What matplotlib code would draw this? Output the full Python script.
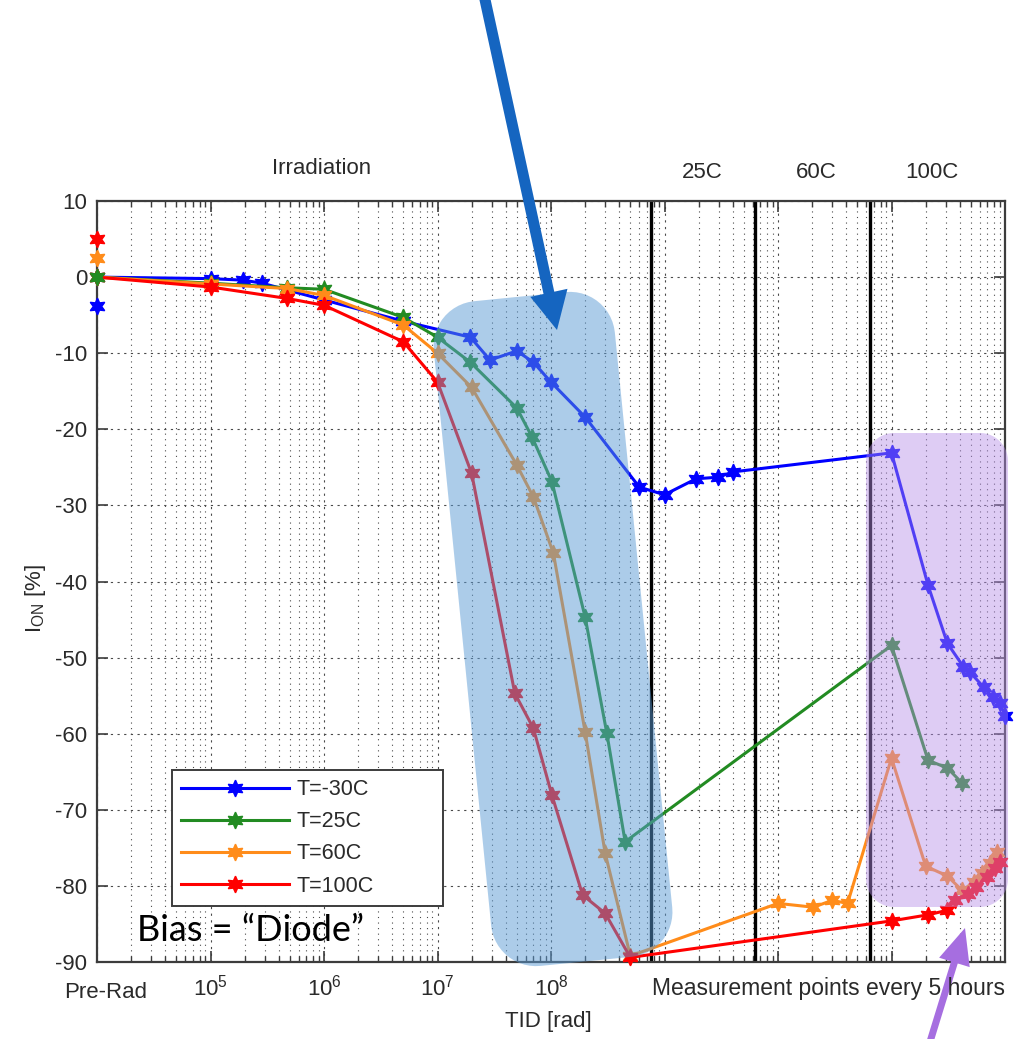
import numpy as np
import matplotlib
matplotlib.use("Agg")
import matplotlib.pyplot as plt
from matplotlib.patches import Polygon, FancyArrow
from matplotlib.ticker import FixedLocator, LogLocator, FuncFormatter, NullFormatter

plt.rcParams["font.family"] = ["Liberation Sans", "DejaVu Sans"]
plt.rcParams["mathtext.fontset"] = "custom"
plt.rcParams["mathtext.rm"] = "Liberation Sans"
plt.rcParams["mathtext.it"] = "Liberation Sans:italic"
plt.rcParams["axes.unicode_minus"] = False

# ---- measured on-current change vs. total ionising dose / annealing time ----
x_m30 = [1e4, 1e5, 1.93e5, 2.85e5, 1e6, 5e6, 1.95e7, 2.9e7, 5e7, 7e7, 1e8, 2e8,
         6e8, 1e9, 1.9e9, 2.95e9, 4e9, 1e11, 2.1e11, 3.1e11, 4.3e11, 4.9e11,
         6.5e11, 7.8e11, 9.1e11, 1e12]
y_m30 = [0, -0.2, -0.4, -0.8, -3.0, -5.8, -7.9, -10.9, -9.7, -11.2, -13.8, -18.4,
         -27.6, -28.6, -26.5, -26.3, -25.6, -23.1, -40.5, -48.1, -51.2, -51.9,
         -53.9, -55.2, -56.0, -57.7]

x_25 = [1e4, 1e5, 4.7e5, 1e6, 5e6, 1e7, 1.95e7, 5e7, 6.8e7, 1.02e8, 2e8, 3.1e8,
        4.5e8, 1e11, 2.1e11, 3.1e11, 4.2e11]
y_25 = [0, -0.8, -1.4, -1.6, -5.3, -7.9, -11.2, -17.2, -21.0, -26.9, -44.7, -59.9,
        -74.2, -48.4, -63.5, -64.5, -66.5]

x_60 = [1e4, 1e5, 4.7e5, 1e6, 5e6, 1e7, 2e7, 5e7, 7e7, 1.05e8, 2e8, 3e8, 5e8,
        1e10, 2.05e10, 3e10, 4.1e10, 1e11, 2e11, 3.1e11, 4.2e11, 5.3e11, 6.3e11,
        7.4e11, 8.5e11]
y_60 = [0, -0.9, -1.5, -2.4, -6.3, -10.0, -14.5, -24.7, -28.9, -36.3, -59.8, -75.7,
        -89.2, -82.3, -82.8, -81.9, -82.3, -63.2, -77.4, -78.7, -80.6, -79.5, -78.3,
        -77.0, -75.6]

x_100 = [1e4, 1e5, 4.7e5, 1e6, 5e6, 1e7, 2e7, 4.8e7, 7e7, 1.02e8, 1.9e8, 3e8, 5e8,
         1e11, 2.1e11, 3.1e11, 3.6e11, 4.7e11, 5.6e11, 6.9e11, 8.1e11, 9.1e11]
y_100 = [0, -1.3, -2.8, -3.7, -8.5, -13.8, -25.8, -54.7, -59.3, -68.1, -81.2, -83.6,
         -89.4, -84.6, -83.8, -83.2, -81.9, -81.0, -80.2, -78.8, -77.7, -76.9]

# un-normalised pre-irradiation readings
prerad_y = [-3.8, 0.0, 2.5, 5.0]

labels = ["T=-30C", "T=25C", "T=60C", "T=100C"]
colors = ["#0000ff", "#228b22", "#ff8c1a", "#ff0000"]

# end of irradiation / start of each annealing step
phase_bounds = [7.6e8, 6.3e9, 6.5e10]
phase_names = ["25C", "60C", "100C"]

decade_labels = {5: r"$10^{5}$", 6: r"$10^{6}$", 7: r"$10^{7}$", 8: r"$10^{8}$"}

W, H = 1028, 1039
TXT = "#2a2a2a"
fig = plt.figure(figsize=(W / 100, H / 100), dpi=100)
ax = fig.add_axes([97 / W, 1 - 962 / H, (1005 - 97) / W, (962 - 201) / H])

ax.set_xscale("log")
ax.set_xlim(1e4, 1e12)
ax.set_ylim(-90, 10)
ax.yaxis.set_major_locator(FixedLocator(np.arange(-90, 11, 10)))
ax.xaxis.set_major_locator(FixedLocator([10.0 ** k for k in range(4, 13)]))
ax.xaxis.set_minor_locator(LogLocator(base=10, subs=np.arange(2, 10), numticks=40))
ax.xaxis.set_minor_formatter(NullFormatter())
ax.xaxis.set_major_formatter(FuncFormatter(
    lambda v, p: decade_labels.get(int(round(np.log10(v))), "")))

ax.grid(True, which="major", color="#4a4a4a", linestyle=(0, (2, 4)), lw=0.8)
ax.grid(True, which="minor", axis="x", color="#4a4a4a", linestyle=(0, (1, 4)), lw=0.8)
ax.tick_params(which="both", direction="in", top=True, right=True,
               colors="#3c3c3c", labelcolor=TXT, labelsize=16)
ax.tick_params(which="major", length=8, width=1.2)
ax.tick_params(which="minor", length=4, width=1.0)
ax.tick_params(axis="x", pad=9)
ax.tick_params(axis="y", pad=7)
for s in ax.spines.values():
    s.set_color("#3c3c3c")
    s.set_linewidth(1.6)

for xb in phase_bounds:
    ax.axvline(xb, color="black", lw=2.4, zorder=2)

star = (6, 1, 0)
for xs, ys, c, lab in zip([x_m30, x_25, x_60, x_100], [y_m30, y_25, y_60, y_100],
                          colors, labels):
    ax.plot(xs, ys, color=c, lw=2.2, marker=star, ms=12, mec=c, mfc=c,
            label=lab, clip_on=False, zorder=5)
for yp, c in zip(prerad_y, colors):
    ax.plot([1e4], [yp], linestyle="none", marker=star, ms=12, color=c,
            clip_on=False, zorder=5)

leg = ax.legend(loc="upper left",
                bbox_to_anchor=(75 / 908, 57 / 761, 271 / 908, 135 / 761),
                mode="expand", fontsize=15.5, handlelength=5.0, handletextpad=0.35,
                labelspacing=0.52, borderpad=0.42, borderaxespad=0, fancybox=False,
                framealpha=1, edgecolor="#3c3c3c")
leg.get_frame().set_linewidth(1.4)
for t in leg.get_texts():
    t.set_color(TXT)

# ---- annotation layer in pixel coordinates ----
ov = fig.add_axes([0, 0, 1, 1], zorder=10)
ov.set_xlim(0, W)
ov.set_ylim(H, 0)
ov.axis("off")
ov.patch.set_alpha(0)


def rounded_rect(cx, cy, w, h, r, ang, n=14):
    pts = []
    for (x0, y0, a0) in [(w / 2 - r, h / 2 - r, 0), (-w / 2 + r, h / 2 - r, 90),
                         (-w / 2 + r, -h / 2 + r, 180), (w / 2 - r, -h / 2 + r, 270)]:
        t = np.radians(np.linspace(a0, a0 + 90, n))
        pts += list(zip(x0 + r * np.cos(t), y0 + r * np.sin(t)))
    pts = np.array(pts)
    a = np.radians(ang)
    xr = pts[:, 0] * np.cos(a) - pts[:, 1] * np.sin(a)
    yr = pts[:, 0] * np.sin(a) + pts[:, 1] * np.cos(a)
    return np.column_stack([cx + xr, cy - yr])


ov.add_patch(Polygon(rounded_rect(553, 629, 182, 668, 45, 5.7), closed=True,
                     facecolor="#5b9bd5", alpha=0.5, edgecolor="none"))
ov.add_patch(Polygon(rounded_rect(937, 670, 142, 474, 28, 0), closed=True,
                     facecolor="#b68ee8", alpha=0.45, edgecolor="none"))

ov.add_patch(FancyArrow(484, -5, 557 - 484, 330 + 5, width=11, head_width=38,
                        head_length=38, length_includes_head=True,
                        color="#1565c0", lw=0))
ov.add_patch(FancyArrow(929, 1045, 965 - 929, 928 - 1045, width=7, head_width=32,
                        head_length=36, length_includes_head=True,
                        color="#a66ee0", lw=0))

ov.text(137, 941, "Bias = \u201cDiode\u201d", fontsize=26, family=["Lato", "DejaVu Sans"],
        color="black", ha="left", va="baseline")

ov.text(322, 168, "Irradiation", fontsize=16, color=TXT, ha="center", va="center")
for xp, name in zip([702, 816, 932], phase_names):
    ov.text(xp, 172, name, fontsize=16, color=TXT, ha="center", va="center")
ov.text(106, 992, "Pre-Rad", fontsize=16, color=TXT, ha="center", va="center")
ov.text(828, 988, "Measurement points every 5 hours", fontsize=16.5, color=TXT,
        ha="center", va="center")
ov.text(548, 1021, "TID [rad]", fontsize=16, color=TXT, ha="center", va="center")
ov.text(35, 598, r"I$_{\mathrm{ON}}$ [%]", fontsize=16, color=TXT, ha="center",
        va="center", rotation=90)

fig.savefig("out.png", dpi=100)
